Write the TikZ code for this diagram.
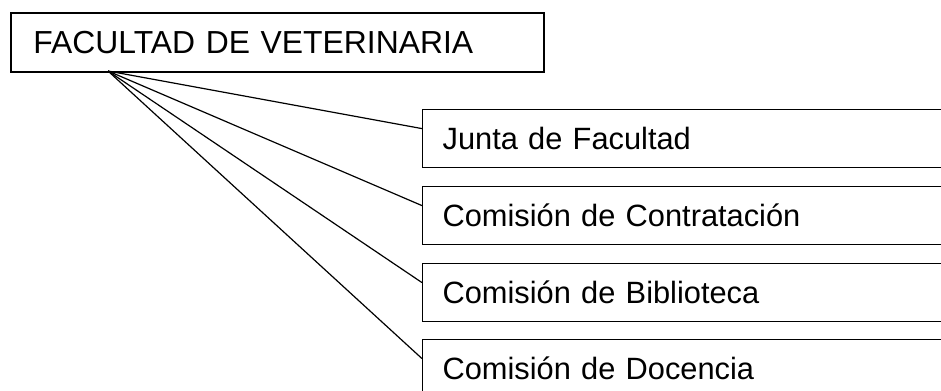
\documentclass[tikz,border=0pt]{standalone}
\usepackage{fontspec}
\setmainfont{Liberation Sans}
\begin{document}
\begin{tikzpicture}[x=0.75pt, y=0.75pt,
    headbox/.style={draw, line width=1.5pt, anchor=north west, minimum width=399.75pt,
      minimum height=44.25pt, text width=366pt, inner xsep=16.5pt, align=left,
      font=\fontsize{23.9}{28}\selectfont},
    unitbox/.style={draw, line width=0.9pt, anchor=north west, minimum width=420pt,
      minimum height=43.5pt, text width=390pt, inner xsep=15pt, align=left,
      font=\fontsize{23.1}{28}\selectfont},
    branch/.style={line width=0.9pt}]
    \useasboundingbox (0,0) rectangle (941,390);
    \clip (0,0) rectangle (941,390);
    % Faculty
    \node[headbox] (fac) at (10,378) {FACULTAD DE VETERINARIA};
    \coordinate (fan) at (108,319);
    % Committees
    \node[unitbox] (junta)    at (422,281) {Junta de Facultad};
    \node[unitbox] (contrat)  at (422,204) {Comisión de Contratación};
    \node[unitbox] (biblio)   at (422,127) {Comisión de Biblioteca};
    \node[unitbox] (docencia) at (422,51)  {Comisión de Docencia};
    % Lines
    \draw[branch] (fan) -- ([yshift=7.5pt]junta.west);
    \draw[branch] (fan) -- ([yshift=7.5pt]contrat.west);
    \draw[branch] (fan) -- ([yshift=7.5pt]biblio.west);
    \draw[branch] (fan) -- ([yshift=7.5pt]docencia.west);
\end{tikzpicture}
\end{document}
